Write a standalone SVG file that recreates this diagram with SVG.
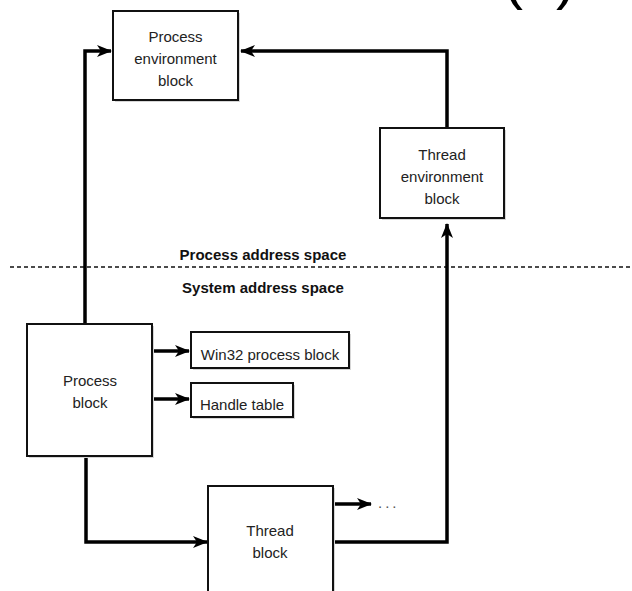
<svg xmlns="http://www.w3.org/2000/svg" width="632" height="591" viewBox="0 0 632 591">
  <defs>
    <marker id="arrow" viewBox="0 0 15 12" markerWidth="15" markerHeight="12" refX="14" refY="6" orient="auto" markerUnits="userSpaceOnUse">
      <path d="M0,0 L15,6 L0,12 L4,6 z" fill="#000"/>
    </marker>
  </defs>
  <style>
    .box { fill: #fff; stroke: #111; stroke-width: 2; }
    .shadow { fill: #d6d6d6; }
    .lbl { font-family: "Liberation Sans", Arial, sans-serif; font-size: 15px; fill: #222; text-anchor: middle; }
    .space { font-family: "Liberation Sans", Arial, sans-serif; font-size: 15px; font-weight: bold; fill: #111; text-anchor: middle; }
    .conn { fill: none; stroke: #000; stroke-width: 3.5; marker-end: url(#arrow); }
  </style>
  <rect width="632" height="591" fill="#fff"/>

  <text x="503" y="-2" font-family="Liberation Sans, Arial, sans-serif" font-size="60" fill="#000"><tspan x="503">(</tspan><tspan x="556">)</tspan></text>

  <line x1="10" y1="267" x2="632" y2="267" stroke="#111" stroke-width="1.5" stroke-dasharray="4,3"/>
  <text class="space" x="263" y="260">Process address space</text>
  <text class="space" x="263" y="293">System address space</text>

  <g id="connectors">
    <path class="conn" d="M85,324 V51 H111"/>
    <path class="conn" d="M447,128 V51 H241"/>
    <path class="conn" d="M333,542 H447 V224"/>
    <path class="conn" d="M86,456 V542 H207"/>
    <path class="conn" d="M152,351 H189"/>
    <path class="conn" d="M152,399 H189"/>
    <path class="conn" d="M333,504 H371"/>
  </g>

  <g id="peb">
    <rect class="shadow" x="115" y="13" width="125" height="89"/>
    <rect class="box" x="113" y="11" width="125" height="89"/>
    <text class="lbl" x="175.5" y="42">Process</text>
    <text class="lbl" x="175.5" y="64">environment</text>
    <text class="lbl" x="175.5" y="86">block</text>
  </g>

  <g id="teb">
    <rect class="shadow" x="382" y="130" width="124" height="90"/>
    <rect class="box" x="380" y="128" width="124" height="90"/>
    <text class="lbl" x="442" y="160">Thread</text>
    <text class="lbl" x="442" y="182">environment</text>
    <text class="lbl" x="442" y="204">block</text>
  </g>

  <g id="process-block">
    <rect class="shadow" x="29" y="326" width="125" height="132"/>
    <rect class="box" x="27" y="324" width="125" height="132"/>
    <text class="lbl" x="90" y="386">Process</text>
    <text class="lbl" x="90" y="408">block</text>
  </g>

  <g id="win32">
    <rect class="shadow" x="193" y="334" width="158" height="36"/>
    <rect class="box" x="191" y="332" width="158" height="36"/>
    <text class="lbl" x="270" y="360">Win32 process block</text>
  </g>

  <g id="handle-table">
    <rect class="shadow" x="193" y="385" width="102" height="34"/>
    <rect class="box" x="191" y="383" width="102" height="34"/>
    <text class="lbl" x="242" y="410">Handle table</text>
  </g>

  <g id="thread-block">
    <rect class="shadow" x="210" y="488" width="125" height="120"/>
    <rect class="box" x="208" y="486" width="125" height="120"/>
    <text class="lbl" x="270" y="536">Thread</text>
    <text class="lbl" x="270" y="558">block</text>
  </g>

  <text x="378" y="508" font-family="Liberation Sans, Arial, sans-serif" font-size="15" fill="#555" letter-spacing="3">...</text>
</svg>
